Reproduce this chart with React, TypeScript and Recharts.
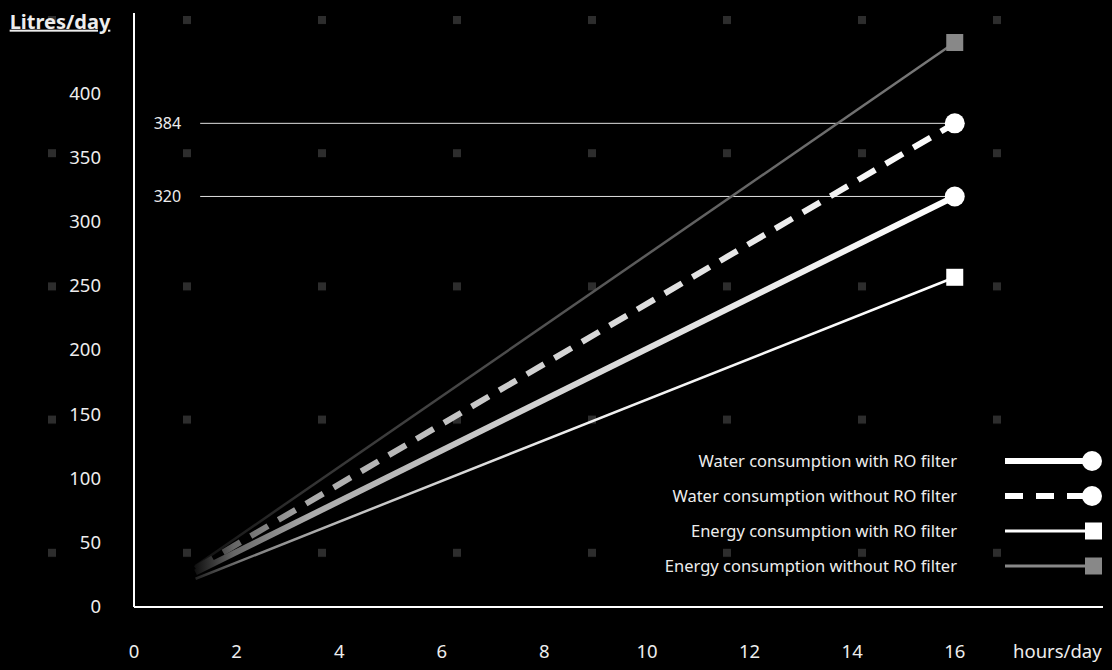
import React from "react";
import {
  LineChart,
  Line,
  XAxis,
  YAxis,
  ReferenceLine,
  Legend,
} from "recharts";

// hours per day -> litres per day
const hours = [1.2, 16];
const waterWithRO = [27, 320];
const waterWithoutRO = [30, 377];
const energyWithRO = [22, 257];
const energyWithoutRO = [32, 440];

const xTicks = [0, 2, 4, 6, 8, 10, 12, 14, 16, 18];
const yTicks = [0, 50, 100, 150, 200, 250, 300, 350, 400, 450];
// marker lines: where they sit, and the text printed beside them
const refValues = [377, 320];
const refLabels = ["384", "320"];

const seriesNames = [
  "Water consumption with RO filter",
  "Water consumption without RO filter",
  "Energy consumption with RO filter",
  "Energy consumption without RO filter",
];

const data = hours.map((h, i) => ({
  h,
  waterRO: waterWithRO[i],
  waterNoRO: waterWithoutRO[i],
  energyRO: energyWithRO[i],
  energyNoRO: energyWithoutRO[i],
}));

const FONT = "'Noto Sans', sans-serif";
const TEXT = "#ededed";

const YTick = (props: any) => {
  const { y, payload } = props;
  if (payload.value === 450) {
    return (
      <text
        x={60}
        y={y - 1}
        textAnchor="middle"
        fill={TEXT}
        fontSize={20}
        fontWeight={700}
        fontFamily={FONT}
        style={{ textDecoration: "underline" }}
      >
        Litres/day
      </text>
    );
  }
  return (
    <text x={101} y={y} dy={6} textAnchor="end" fill={TEXT} fontSize={18.5} fontFamily={FONT}>
      {payload.value}
    </text>
  );
};

const XTick = (props: any) => {
  const { x, payload } = props;
  const label = payload.value === 18 ? "hours/day" : String(payload.value);
  return (
    <text x={x} y={658} textAnchor="middle" fill={TEXT} fontSize={18.5} fontFamily={FONT}>
      {label}
    </text>
  );
};

// marker only at the last point of each line
const endDot = (shape: "circle" | "square", color: string) => (p: any) => {
  if (p.index !== data.length - 1) return <g key={p.key} />;
  if (shape === "circle") {
    return <circle key={p.key} cx={p.cx} cy={p.cy} r={10} fill={color} />;
  }
  return <rect key={p.key} x={p.cx - 8.5} y={p.cy - 8.5} width={17} height={17} fill={color} />;
};

const legendIcons = [
  { width: 6, dash: undefined, color: "#fff", shape: "circle" },
  { width: 6, dash: "18 13", color: "#fff", shape: "circle" },
  { width: 3, dash: undefined, color: "#fff", shape: "square" },
  { width: 3, dash: undefined, color: "#888", shape: "square" },
];

const LegendContent = () => (
  <div style={{ fontFamily: FONT }}>
    {seriesNames.map((name, i) => {
      const ic = legendIcons[i];
      return (
        <div key={name} style={{ display: "flex", alignItems: "center", height: 35 }}>
          <div style={{ width: 317, textAlign: "right", color: TEXT, fontSize: 16.5, whiteSpace: "nowrap" }}>
            {name}
          </div>
          <svg width={110} height={24} style={{ marginLeft: 40 }}>
            <line
              x1={8}
              y1={12}
              x2={95}
              y2={12}
              stroke={ic.color}
              strokeWidth={ic.width}
              strokeDasharray={ic.dash}
            />
            {ic.shape === "circle" ? (
              <circle cx={95} cy={12} r={10} fill={ic.color} />
            ) : (
              <rect x={88} y={3.5} width={17} height={17} fill={ic.color} />
            )}
          </svg>
        </div>
      );
    })}
  </div>
);

export default function App() {
  return (
    <div
      style={{
        position: "absolute",
        left: 0,
        top: 0,
        width: 1112,
        height: 670,
        background: "#000",
        overflow: "hidden",
      }}
    >
      <svg width={1112} height={670} style={{ position: "absolute", left: 0, top: 0 }}>
        <defs>
          <pattern id="dots" x={48} y={16} width={135} height={133.2} patternUnits="userSpaceOnUse">
            <rect x={0} y={0} width={8} height={8} fill="#2d2d2d" />
          </pattern>
        </defs>
        <rect width={1112} height={670} fill="url(#dots)" />
      </svg>
      <div style={{ position: "absolute", left: 0, top: 0 }}>
        <LineChart width={1112} height={670} data={data} margin={{ top: 13, right: 9, left: 0, bottom: 0 }}>
          <defs>
            <linearGradient id="gWhite" x1="0" y1="0" x2="1" y2="0">
              <stop offset="0%" stopColor="#111" />
              <stop offset="5%" stopColor="#666" />
              <stop offset="15%" stopColor="#aaa" />
              <stop offset="45%" stopColor="#d2d2d2" />
              <stop offset="100%" stopColor="#fff" />
            </linearGradient>
            <linearGradient id="gThin" x1="0" y1="0" x2="1" y2="0">
              <stop offset="0%" stopColor="#222" />
              <stop offset="6%" stopColor="#777" />
              <stop offset="20%" stopColor="#c0c0c0" />
              <stop offset="50%" stopColor="#eee" />
              <stop offset="100%" stopColor="#fff" />
            </linearGradient>
            <linearGradient id="gGray" x1="0" y1="0" x2="1" y2="0">
              <stop offset="0%" stopColor="#111" />
              <stop offset="15%" stopColor="#333" />
              <stop offset="50%" stopColor="#555" />
              <stop offset="100%" stopColor="#7a7a7a" />
            </linearGradient>
          </defs>
          <XAxis
            dataKey="h"
            type="number"
            domain={[0, 18.89]}
            ticks={xTicks}
            interval={0}
            height={63}
            tickLine={false}
            tick={<XTick />}
            axisLine={{ stroke: "#fff", strokeWidth: 2 }}
          />
          <YAxis
            type="number"
            domain={[0, 463]}
            ticks={yTicks}
            interval={0}
            width={134}
            tickLine={false}
            tick={<YTick />}
            axisLine={{ stroke: "#fff", strokeWidth: 2 }}
          />
          {refValues.map((v, i) => (
            <ReferenceLine
              key={v}
              segment={[
                { x: 1.29, y: v },
                { x: 16, y: v },
              ]}
              stroke="#e0e0e0"
              strokeWidth={1}
              label={{ value: refLabels[i], position: "left", offset: 19, fill: TEXT, fontSize: 16, fontFamily: FONT }}
            />
          ))}
          <Line
            dataKey="energyNoRO"
            name={seriesNames[3]}
            stroke="url(#gGray)"
            strokeWidth={2.5}
            dot={endDot("square", "#888")}
            isAnimationActive={false}
          />
          <Line
            dataKey="energyRO"
            name={seriesNames[2]}
            stroke="url(#gThin)"
            strokeWidth={2.5}
            dot={endDot("square", "#fff")}
            isAnimationActive={false}
          />
          <Line
            dataKey="waterRO"
            name={seriesNames[0]}
            stroke="url(#gWhite)"
            strokeWidth={6}
            dot={endDot("circle", "#fff")}
            isAnimationActive={false}
          />
          <Line
            dataKey="waterNoRO"
            name={seriesNames[1]}
            stroke="url(#gWhite)"
            strokeWidth={6}
            strokeDasharray="20 12"
            dot={endDot("circle", "#fff")}
            isAnimationActive={false}
          />
          <Legend
            layout="vertical"
            align="center"
            verticalAlign="middle"
            content={<LegendContent />}
            wrapperStyle={{ position: "absolute", left: 640, top: 443, width: 470 }}
          />
        </LineChart>
      </div>
    </div>
  );
}
